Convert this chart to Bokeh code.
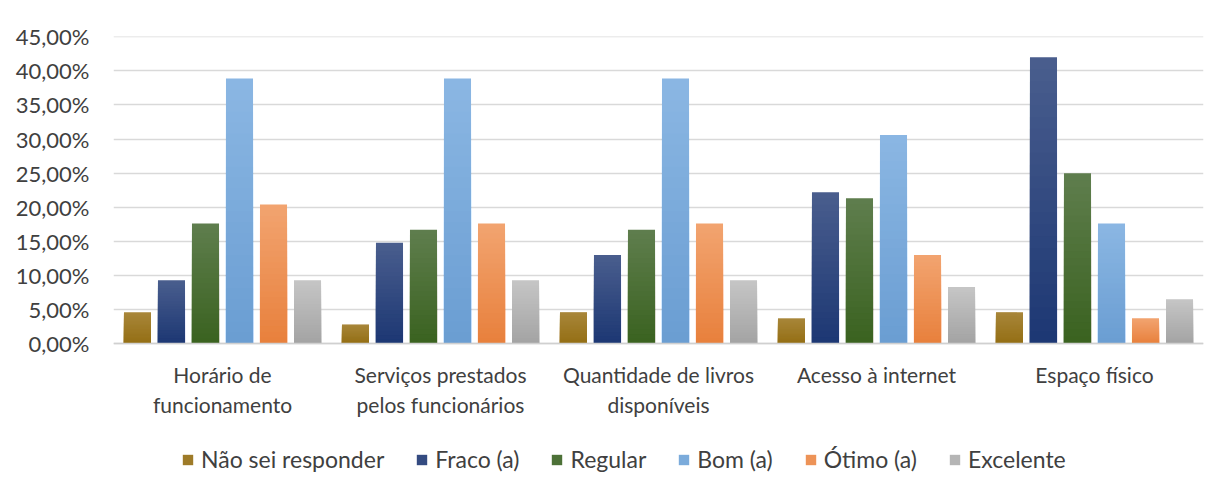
from bokeh.plotting import figure
from bokeh.models import FactorRange, ColumnDataSource, CustomJSTickFormatter, Legend, LegendItem, FixedTicker, Range1d
from bokeh.transform import dodge
from bokeh.embed import file_html
from bokeh.resources import INLINE

categories = ["Horário de\nfuncionamento", "Serviços prestados\npelos funcionários",
              "Quantidade de livros\ndisponíveis", "Acesso à internet", "Espaço físico"]
series = ["Não sei responder", "Fraco (a)", "Regular", "Bom (a)", "Ótimo (a)", "Excelente"]
nao_sei = [4.6, 2.8, 4.6, 3.7, 4.6]
fraco = [9.3, 14.8, 13.0, 22.2, 42.0]
regular = [17.6, 16.7, 16.7, 21.3, 25.0]
bom = [38.9, 38.9, 38.9, 30.6, 17.6]
otimo = [20.4, 17.6, 17.6, 13.0, 3.7]
excelente = [9.3, 9.3, 9.3, 8.3, 6.5]
colors = ["#9C7A1E", "#22417A", "#446B2B", "#73A7DB", "#EE8A48", "#B3B3B3"]
top_colors = ["#A8873A", "#4A5E8E", "#5F7E4E", "#8BB7E3", "#F2A470", "#C6C6C6"]
bottom_colors = ["#946E14", "#1C3773", "#3A621F", "#6A9DD2", "#E8803C", "#A3A3A3"]
ticks = [0, 5, 10, 15, 20, 25, 30, 35, 40, 45]


def hex2rgb(h):
    return [int(h[i:i + 2], 16) for i in (1, 3, 5)]


def mix(a, b, t):
    ra, rb = hex2rgb(a), hex2rgb(b)
    return "#%02x%02x%02x" % tuple(int(round(x + (y - x) * t)) for x, y in zip(ra, rb))


FONT = "Lato"
p = figure(x_range=FactorRange(*categories), y_range=Range1d(-19.66, 45.05),
           frame_width=1090, frame_height=441, output_backend="svg", toolbar_location=None,
           min_border_left=113, min_border_right=7, min_border_top=36, min_border_bottom=0)
p.outline_line_color = None
p.background_fill_color = "white"

offsets = [-0.39, -0.234, -0.078, 0.078, 0.234, 0.39]
NSLICE = 24
items = []
for name, vals, c, ct, cb, off in zip(series, [nao_sei, fraco, regular, bom, otimo, excelente],
                                       colors, top_colors, bottom_colors, offsets):
    # overlapping bars from tallest (top colour) to shortest (bottom colour) -> vertical gradient
    legend_r = None
    for i in range(NSLICE - 1, -1, -1):
        frac = (i + 1) / NSLICE
        src = ColumnDataSource(dict(cat=categories, t=[v * frac for v in vals]))
        col = mix(cb, ct, (i + 0.5) / NSLICE)
        r = p.vbar(x=dodge("cat", off, range=p.x_range), top="t", bottom=0, width=0.124,
                   source=src, fill_color=col, line_color=None)
        if i == NSLICE // 2:
            legend_r = r
    items.append(LegendItem(label=name, renderers=[legend_r]))

p.yaxis.ticker = FixedTicker(ticks=ticks)
p.yaxis.formatter = CustomJSTickFormatter(code="return tick.toFixed(2).replace('.', ',') + '%';")
p.yaxis.axis_line_color = None
p.yaxis.major_tick_line_color = None
p.yaxis.minor_tick_line_color = None
p.yaxis.major_label_text_font = FONT
p.yaxis.major_label_text_font_size = "22px"
p.yaxis.major_label_text_color = "#404040"
p.yaxis.major_label_standoff = 18

p.xaxis.fixed_location = 0
p.xaxis.axis_line_color = "#D0D0D0"
p.xaxis.axis_line_width = 1.5
p.xaxis.major_tick_line_color = None
p.xaxis.minor_tick_line_color = None
p.xaxis.major_label_text_font = FONT
p.xaxis.major_label_text_font_size = "21px"
p.xaxis.major_label_text_color = "#404040"
p.xaxis.major_label_standoff = 12

p.xgrid.grid_line_color = None
p.ygrid.grid_line_color = "#D9D9D9"
p.ygrid.grid_line_width = 1.5
p.ygrid.ticker = FixedTicker(ticks=ticks)

legend = Legend(items=items, orientation="horizontal", location=(68, 4),
                label_text_font=FONT, label_text_font_size="23px", label_text_color="#404040",
                glyph_width=13, glyph_height=13, label_standoff=7, spacing=31,
                border_line_color=None, background_fill_alpha=0, margin=0, padding=2)
p.add_layout(legend, "center")

open("out.html", "w").write(file_html(p, INLINE))
